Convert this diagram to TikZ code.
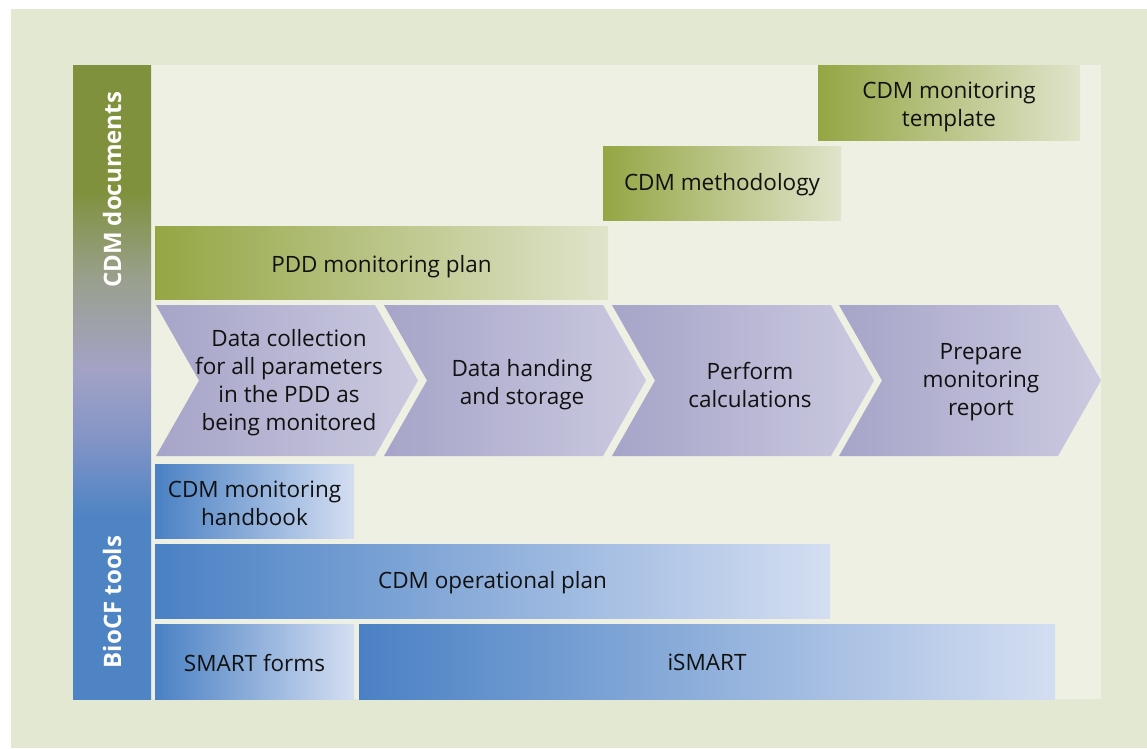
\documentclass[tikz,border=0pt]{standalone}
\usepackage{fontspec}
\setmainfont{Open Sans}
\definecolor{outerbg}{HTML}{E2E8D2}
\definecolor{panelbg}{HTML}{EEF0E3}
\definecolor{docL}{HTML}{94A644}
\definecolor{docR}{HTML}{E0E4CB}
\definecolor{chevL}{HTML}{A6A4C8}
\definecolor{chevR}{HTML}{CBCAE0}
\definecolor{toolL}{HTML}{4A81C4}
\definecolor{toolR}{HTML}{D4DEF2}
\definecolor{ink}{HTML}{111111}
\definecolor{bargreen}{HTML}{7F913C}
\definecolor{bargray}{HTML}{9AA08F}
\definecolor{barlav}{HTML}{A3A2C6}
\definecolor{barmauve}{HTML}{8294C6}
\definecolor{barblue}{HTML}{4F84C4}
% side bar: olive at the top fading through grey and lavender into blue
\pgfdeclareverticalshading{sidebar}{100bp}{%
  color(0bp)=(barblue); color(25bp)=(barblue); color(39.5bp)=(barblue);
  color(45.4bp)=(barmauve); color(51bp)=(barlav); color(58bp)=(bargray);
  color(65.1bp)=(bargreen); color(75bp)=(bargreen); color(100bp)=(bargreen)}
\begin{document}
\begin{tikzpicture}[x=1pt,y=-1pt,
  txt/.style={font=\fontsize{22.5}{28}\selectfont, align=center, text=ink, inner sep=0pt},
  docbox/.style={left color=docL, right color=docR, draw=none, inner sep=0pt},
  toolbox/.style={left color=toolL, right color=toolR, draw=none, inner sep=0pt},
  chevshape/.style={left color=chevL, right color=chevR, draw=none},
  sidelbl/.style={font=\fontsize{24}{28}\selectfont\bfseries, text=white, rotate=90, inner sep=0pt}]
\useasboundingbox (0,0) rectangle (1147,748);
\fill[white] (0,0) rectangle (1147,748);
\fill[outerbg] (11,9) rectangle (1147,748);
\fill[panelbg] (151,65) rectangle (1101,699);
\shade[shading=sidebar] (73,65) rectangle (151,699);

\node[sidelbl] (docs) at (112,190) {CDM documents};
\node[sidelbl] (tools) at (112,602) {BioCF tools};

% CDM documents
\node[docbox, minimum width=262pt, minimum height=75pt] (template) at (949,102.5) {};
\node[docbox, minimum width=238pt, minimum height=74pt] (method) at (722,183) {};
\node[docbox, minimum width=453pt, minimum height=73pt] (pdd) at (381.5,262.5) {};
\node[txt] (template-t) at (949,106.5) {CDM monitoring\\template};
\node[txt] (method-t) at (722,185) {CDM methodology};
\node[txt] (pdd-t) at (381.5,267) {PDD monitoring plan};

% process chevrons
\shade[chevshape] (156,305) -- (375,305) -- (418,380.5) -- (375,456) -- (156,456) -- (199,380.5) -- cycle;
\shade[chevshape] (384,305) -- (603,305) -- (646,380.5) -- (603,456) -- (384,456) -- (427,380.5) -- cycle;
\shade[chevshape] (612,305) -- (831,305) -- (874,380.5) -- (831,456) -- (612,456) -- (655,380.5) -- cycle;
\shade[chevshape] (839,305) -- (1058,305) -- (1101,380.5) -- (1058,456) -- (839,456) -- (882,380.5) -- cycle;
\node[txt] (collect) at (289,383) {Data collection\\for all parameters\\in the PDD as\\being monitored};
\node[txt] (storage) at (522,385) {Data handing\\and storage};
\node[txt] (calc) at (750,384.5) {Perform\\calculations};
\node[txt] (report) at (981,382) {Prepare\\monitoring\\report};

% BioCF tools
\node[toolbox, minimum width=199pt, minimum height=74pt] (handbook) at (254.5,501) {};
\node[toolbox, minimum width=675pt, minimum height=74pt] (opplan) at (492.5,581) {};
\node[toolbox, minimum width=199pt, minimum height=75pt] (forms) at (254.5,661.5) {};
\node[toolbox, minimum width=696pt, minimum height=75pt] (ismart) at (707,661.5) {};
\node[txt] (handbook-t) at (254.5,503.5) {CDM monitoring\\handbook};
\node[txt] (opplan-t) at (492.5,583) {CDM operational plan};
\node[txt] (forms-t) at (254.5,662.5) {SMART forms};
\node[txt] (ismart-t) at (707,662.5) {iSMART};
\end{tikzpicture}
\end{document}
